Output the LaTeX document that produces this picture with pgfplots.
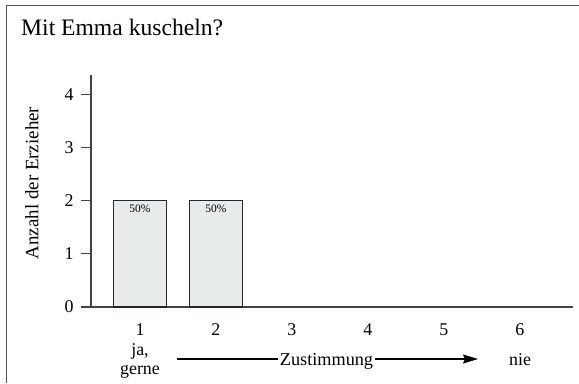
\documentclass[border=0pt]{standalone}
\usepackage{pgfplots}
\pgfplotsset{compat=1.18}
\usepackage{fontspec}
\setmainfont{Liberation Serif}
\usetikzlibrary{arrows.meta}
\definecolor{barfill}{HTML}{E8EBEB}
\definecolor{axisgray}{HTML}{444444}
\definecolor{framegray}{HTML}{555555}
\begin{document}
\begin{tikzpicture}[x=1bp,y=1bp]
\begin{axis}[
  scale only axis, width=482bp, height=232bp,
  xmin=0.355, xmax=6.70, ymin=0, ymax=4.36,
  axis lines*=left,
  axis line style={axisgray, line width=1.5bp},
  tick align=outside, major tick length=10bp,
  xtick={1,2,3,4,5,6}, ytick={0,1,2,3,4},
  xtick style={draw=none},
  ytick style={axisgray, line width=1.3bp},
  ticklabel style={font=\fontsize{18}{18}\selectfont},
  yticklabel style={xshift=-4bp},
  xticklabel style={yshift=-3bp},
  /pgf/number format/assume math mode=true,
  ybar, bar width=0.7,
  clip=false,
  point meta=explicit symbolic,
  nodes near coords,
  nodes near coords style={anchor=north, font=\fontsize{11.5}{11.5}\selectfont, inner sep=1.5bp, yshift=-2.5bp},
]
\addplot[fill=barfill, draw=black!85, line width=1.2bp] coordinates {(1,2) [50\%] (2,2) [50\%]};
\coordinate (BL) at (rel axis cs:0,0);
\end{axis}
\pgfresetboundingbox
\begin{scope}[shift={(BL)}, shift={(-91,-76)}]
\path[use as bounding box] (0,0) rectangle (579,383);
\draw[framegray, line width=1.3bp] (6.5,0) -- (6.5,377.5) -- (579,377.5);
\node[anchor=base west, inner sep=0pt, font=\fontsize{23.7}{23.7}\selectfont] at (21,348) {Mit Emma kuscheln?};
\node[rotate=90, font=\fontsize{19}{19}\selectfont] at (32,200) {Anzahl der Erzieher};
\node[anchor=base, font=\fontsize{18}{18}\selectfont, inner sep=0pt] at (140,28) {ja,};
\node[anchor=base, font=\fontsize{18}{18}\selectfont, inner sep=0pt] at (140,9) {gerne};
\draw[line width=1.3bp, -{Stealth[length=15bp, width=9bp, inset=2bp]}] (177,24) -- (478,24);
\node[anchor=base, fill=white, inner xsep=1.5bp, inner ysep=1bp, font=\fontsize{18.3}{18.3}\selectfont] at (326.5,18) {Zustimmung};
\node[anchor=base, font=\fontsize{18}{18}\selectfont, inner sep=0pt] at (520,18) {nie};
\end{scope}
\end{tikzpicture}
\end{document}
